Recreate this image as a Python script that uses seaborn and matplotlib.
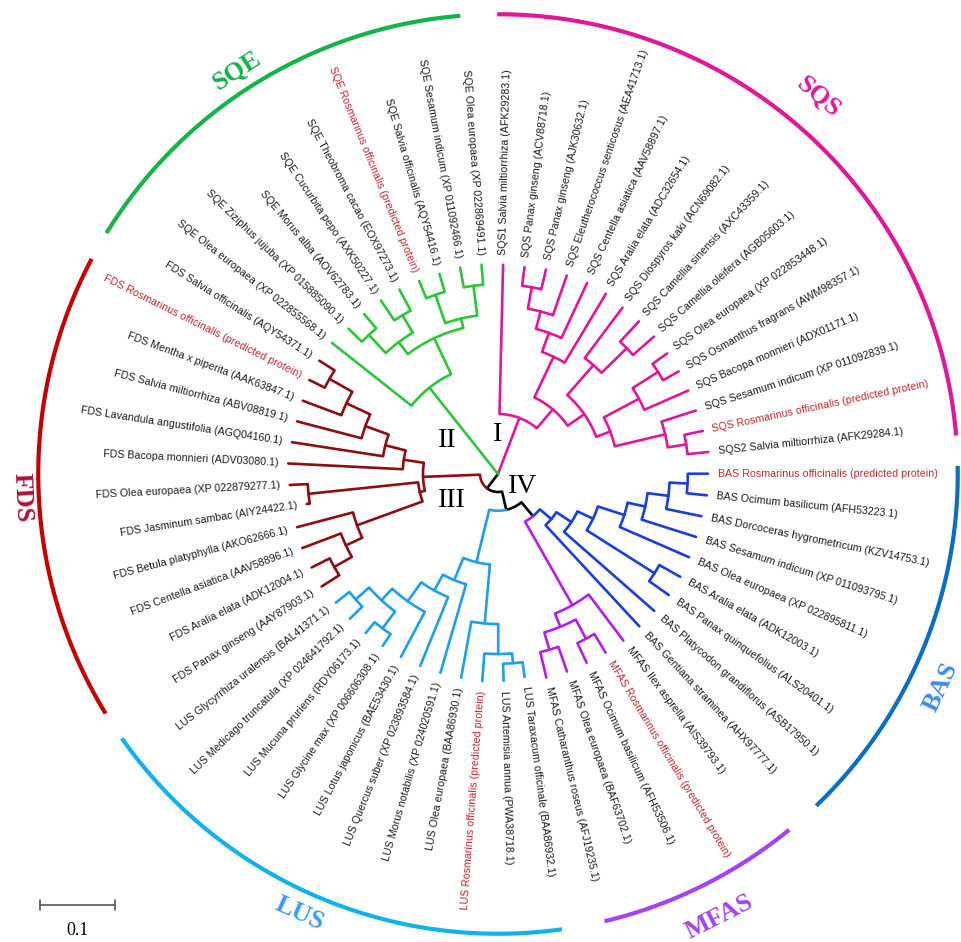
import numpy as np
import pandas as pd
import matplotlib
matplotlib.use("Agg")
import matplotlib.pyplot as plt
import seaborn as sns

# --- leaves of each clade, clockwise from the top of the circle
sqs_leaves = [
    "SQS1 Salvia miltiorrhiza (AFK29283.1)",
    "SQS Panax ginseng (ACV88718.1)",
    "SQS Panax ginseng (AJK30632.1)",
    "SQS Eleutherococcus senticosus (AEA41713.1)",
    "SQS Centella asiatica (AAV58897.1)",
    "SQS Aralia elata (ADC32654.1)",
    "SQS Diospyros kaki (ACN69082.1)",
    "SQS Camellia sinensis (AXC43359.1)",
    "SQS Camellia oleifera (AGB05603.1)",
    "SQS Olea europaea (XP 022853448.1)",
    "SQS Osmanthus fragrans (AWM98357.1)",
    "SQS Bacopa monnieri (ADX01171.1)",
    "SQS Sesamum indicum (XP 011092839.1)",
    "SQS Rosmarinus officinalis (predicted protein)",
    "SQS2 Salvia miltiorrhiza (AFK29284.1)",
]
bas_leaves = [
    "BAS Rosmarinus officinalis (predicted protein)",
    "BAS Ocimum basilicum (AFH53223.1)",
    "BAS Dorcoceras hygrometricum (KZV14753.1)",
    "BAS Sesamum indicum (XP 011093795.1)",
    "BAS Olea europaea (XP 022895811.1)",
    "BAS Aralia elata (ADK12003.1)",
    "BAS Panax quinquefolius (ALS20401.1)",
    "BAS Platycodon grandiflorus (ASB17950.1)",
    "BAS Gentiana straminea (AHX97777.1)",
]
mfas_leaves = [
    "MFAS Ilex asprella (AIS39793.1)",
    "MFAS Rosmarinus officinalis (predicted protein)",
    "MFAS Ocimum basilicum (AFH53506.1)",
    "MFAS Olea europaea (BAF63702.1)",
    "MFAS Catharanthus roseus (AFJ19235.1)",
]
lus_leaves = [
    "LUS Taraxacum officinale (BAA86932.1)",
    "LUS Artemisia annua (PWA38718.1)",
    "LUS Rosmarinus officinalis (predicted protein)",
    "LUS Olea europaea (BAA86930.1)",
    "LUS Morus notabilis (XP 024020591.1)",
    "LUS Quercus suber (XP 023893584.1)",
    "LUS Lotus japonicus (BAE53430.1)",
    "LUS Glycine max (XP 006606308.1)",
    "LUS Mucuna pruriens (RDY06173.1)",
    "LUS Medicago truncatula (XP 024641792.1)",
    "LUS Glycyrrhiza uralensis (BAL41371.1)",
]
fds_leaves = [
    "FDS Panax ginseng (AAY87903.1)",
    "FDS Aralia elata (ADK12004.1)",
    "FDS Centella asiatica (AAV58896.1)",
    "FDS Betula platyphylla (AKO62666.1)",
    "FDS Jasminum sambac (AIY24422.1)",
    "FDS Olea europaea (XP 022879277.1)",
    "FDS Bacopa monnieri (ADV03080.1)",
    "FDS Lavandula angustifolia (AGQ04160.1)",
    "FDS Salvia miltiorrhiza (ABV08819.1)",
    "FDS Mentha x piperita (AAK63847.1)",
    "FDS Rosmarinus officinalis (predicted protein)",
    "FDS Salvia officinalis (AQY54371.1)",
]
sqe_leaves = [
    "SQE Olea europaea (XP 022855568.1)",
    "SQE Ziziphus jujuba (XP 015885090.1)",
    "SQE Morus alba (AOV62783.1)",
    "SQE Cucurbita pepo (AXK50227.1)",
    "SQE Theobroma cacao (EOX97273.1)",
    "SQE Rosmarinus officinalis (predicted protein)",
    "SQE Salvia officinalis (AQY54416.1)",
    "SQE Sesamum indicum (XP 011092466.1)",
    "SQE Olea europaea (XP 022869491.1)",
]

# --- topologies (newick, leaf = index in the clade list, branch lengths)
sqs_tree = ("(0:0.199,(((((1:0.025,2:0.027):0.029,3:0.056):0.024,4:0.081):0.027,5:0.107):0.060,"
            "((6:0.084,(7:0.037,8:0.037):0.047):0.053,(((9:0.024,10:0.024):0.040,11:0.064):0.053,"
            "(12:0.048,(13:0.025,14:0.028):0.025):0.069):0.020):0.027):0.033)")
bas_tree = ("(8:0.184,(7:0.160,((5:0.032,6:0.032):0.107,(4:0.101,(3:0.076,(2:0.048,"
            "(0:0.027,1:0.027):0.024):0.028):0.024):0.037):0.023):0.024)")
mfas_tree = "(0:0.077,((1:0.029,2:0.029):0.029,(3:0.035,4:0.035):0.024):0.019)"
lus_tree = ("((3:0.076,(2:0.037,(1:0.023,0:0.020):0.013):0.040):0.079,(4:0.123,(5:0.099,"
            "(6:0.068,((10:0.023,9:0.023):0.024,(8:0.019,7:0.019):0.028):0.021):0.031):0.024):0.032)")
fds_tree = ("((6:0.153,(7:0.123,(8:0.089,(9:0.055,(10:0.023,11:0.024):0.035):0.035):0.033):0.028):0.027,"
            "((5:0.024,4:0.004):0.147,(3:0.077,(2:0.055,(1:0.027,0:0.028):0.027):0.024):0.093):0.007)")
sqe_tree = ("(0:0.135,(((1:0.025,2:0.025):0.033,(3:0.032,4:0.032):0.027):0.020,"
            "((5:0.025,6:0.025):0.040,(7:0.027,8:0.027):0.040):0.013):0.053)")
backbone = "(SQS:0.080,(FDS:0.076,(LUS:0.072,(BAS:0.020,MFAS:0.128):0.024):0.025):0.024,SQE:0.147)"

clades = ["SQS", "BAS", "MFAS", "LUS", "FDS", "SQE"]
clade_leaves = dict(SQS=sqs_leaves, BAS=bas_leaves, MFAS=mfas_leaves,
                    LUS=lus_leaves, FDS=fds_leaves, SQE=sqe_leaves)
clade_trees = dict(SQS=sqs_tree, BAS=bas_tree, MFAS=mfas_tree,
                   LUS=lus_tree, FDS=fds_tree, SQE=sqe_tree)
numerals = ["I", "II", "III", "IV"]

# --- styles
branch_colors = dict(SQS="#e0169b", BAS="#1a3fd6", MFAS="#b41ee6", LUS="#1e9fe6",
                     FDS="#8b0f12", SQE="#2ec43c", root="#000000")
arc_colors = dict(SQS="#e0169b", BAS="#0a6fc2", MFAS="#a244f5", LUS="#10b2ee",
                  FDS="#c40000", SQE="#16b24a")
title_colors = dict(SQS="#e0169b", BAS="#3c8ce8", MFAS="#a244f5", LUS="#3a9cf2",
                    FDS="#b0103a", SQE="#16b24a")
# outer arcs (degrees, start/end) and where the clade names sit
arc_span = dict(SQS=(90.1, 4.8), BAS=(1.0, -46.2), MFAS=(-50.7, -76.6),
                LUS=(-82.0, -144.9), FDS=(-148.6, -207.9), SQE=(148.4, 94.7))
name_pos = dict(SQS=(49.6, 0.660), BAS=(-25.7, 0.656), MFAS=(-63.4, 0.660),
                LUS=(-114.3, 0.643), FDS=(182.8, 0.635), SQE=(122.9, 0.640))


def parse_newick(s, prefix=""):
    pos = 0

    def node():
        nonlocal pos
        if s[pos] == "(":
            pos += 1
            kids = [node()]
            while s[pos] == ",":
                pos += 1
                kids.append(node())
            pos += 1
            n = {"kids": kids}
        else:
            j = pos
            while s[pos] not in ":,)":
                pos += 1
            n = {"leaf": prefix + s[j:pos]}
        n["len"] = 0.0
        if pos < len(s) and s[pos] == ":":
            pos += 1
            j = pos
            while pos < len(s) and s[pos] not in ",)":
                pos += 1
            n["len"] = float(s[j:pos])
        return n

    return node()


def graft(n):
    if "leaf" in n:
        if n["leaf"] in clade_trees:
            sub = parse_newick(clade_trees[n["leaf"]], n["leaf"] + ".")
            sub["len"] = n["len"]
            return sub
        return n
    n["kids"] = [graft(k) for k in n["kids"]]
    return n


tree = graft(parse_newick(backbone))

# --- leaf angles, evenly spaced clockwise
keys, labels, groups = [], [], []
for c in clades:
    for i, lab in enumerate(clade_leaves[c]):
        keys.append(f"{c}.{i}")
        labels.append(lab)
        groups.append(c)
n_leaves = len(keys)
step = 360.0 / n_leaves
start = 88.6
leaf_theta = {k: start - i * step for i, k in enumerate(keys)}
leaf_group = dict(zip(keys, groups))


def layout(n, r0):
    n["r"] = r0 + n["len"]
    if "leaf" in n:
        n["theta"] = leaf_theta[n["leaf"]]
        n["groups"] = {leaf_group[n["leaf"]]}
    else:
        for k in n["kids"]:
            layout(k, n["r"])
        n["theta"] = np.mean([k["theta"] for k in n["kids"]])
        n["groups"] = set().union(*[k["groups"] for k in n["kids"]])


layout(tree, 0.0)

rows = []
tips = {}


def collect(n):
    if "leaf" in n:
        tips[n["leaf"]] = n["r"]
        return
    for k in n["kids"]:
        col = next(iter(k["groups"])) if len(k["groups"]) == 1 else "root"
        seg = len(rows)
        pts = []
        if n["r"] > 0:
            for t in np.linspace(n["theta"], k["theta"], 25):
                pts.append((n["r"], t))
        else:
            pts.append((0.0, k["theta"]))
        pts.append((k["r"], k["theta"]))
        for r, t in pts:
            rows.append(dict(seg=seg, clade=col,
                             x=r * np.cos(np.radians(t)), y=r * np.sin(np.radians(t))))
        collect(k)


collect(tree)
df = pd.DataFrame(rows)

sns.set_theme(style="white")
plt.rcParams["font.family"] = ["Liberation Sans", "DejaVu Sans"]

fig = plt.figure(figsize=(9.62, 9.42), dpi=100)
ax = fig.add_axes([0, 0, 1, 1])
sns.lineplot(data=df, x="x", y="y", units="seg", hue="clade", palette=branch_colors,
             estimator=None, sort=False, legend=False, lw=1.9, ax=ax)

# --- leaf labels
gap = 0.013
for k, lab in zip(keys, labels):
    t = leaf_theta[k]
    r = tips[k] + gap
    x, y = r * np.cos(np.radians(t)), r * np.sin(np.radians(t))
    tn = (t + 180) % 360 - 180
    if -90 <= tn <= 90:
        rot, ha = tn, "left"
    else:
        rot, ha = tn - 180 if tn > 0 else tn + 180, "right"
    col = "#c0282d" if "Rosmarinus" in lab else "#1c1c1c"
    ax.text(x, y, lab, rotation=rot, rotation_mode="anchor", ha=ha, va="center",
            fontsize=7.7, color=col)

# --- clade arcs and names
arc_r = 0.613
for c in clades:
    t = np.linspace(arc_span[c][0], arc_span[c][1], 150)
    ax.plot(arc_r * np.cos(np.radians(t)), arc_r * np.sin(np.radians(t)),
            color=arc_colors[c], lw=3.0, solid_capstyle="butt")
    tm, rr = name_pos[c]
    tn = (tm + 180) % 360 - 180
    rot = tn - 90 if tn > 0 else tn + 90
    if abs(abs(tn) - 180) < 10:
        rot = tn + 90 if tn < 0 else tn - 270
    ax.text(rr * np.cos(np.radians(tm)), rr * np.sin(np.radians(tm)), c,
            rotation=rot, rotation_mode="anchor", ha="center", va="center",
            fontsize=19, fontweight="bold", color=title_colors[c], family="Liberation Serif")

# --- roman numerals for the four main branches
num_r = [0.052, 0.081, 0.071, 0.037]
num_t = [90, 146, -150, -27]
for s, r, t in zip(numerals, num_r, num_t):
    ax.text(r * np.cos(np.radians(t)), r * np.sin(np.radians(t)), s, ha="center",
            va="center", fontsize=20, family="Liberation Serif", color="black")

# --- scale bar
sb_len = 0.1
sb_x, sb_y = -0.611, -0.575
ax.plot([sb_x, sb_x + sb_len], [sb_y, sb_y], color="#555555", lw=1.2)
for xx in (sb_x, sb_x + sb_len):
    ax.plot([xx, xx], [sb_y - 0.007, sb_y + 0.007], color="#555555", lw=1.2)
ax.text(sb_x + sb_len / 2, sb_y - 0.022, "0.1", ha="center", va="top", fontsize=13,
        family="Liberation Serif", color="black")

ax.set_xlim(-498 / 750, 464 / 750)
ax.set_ylim(-468 / 750, 474 / 750)
ax.set_aspect("equal")
ax.axis("off")
fig.savefig("out.png", dpi=100)
